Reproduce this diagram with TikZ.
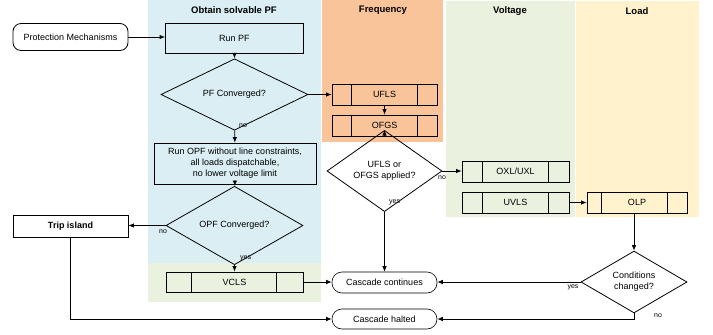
\documentclass[tikz,border=0pt]{standalone}
\usepackage{fontspec}
\setmainfont{Liberation Sans}
\usetikzlibrary{shapes.geometric,arrows.meta}
\definecolor{laneblue}{HTML}{DAEEF3}
\definecolor{lanegreen}{HTML}{EAF1DE}
\definecolor{laneorange}{HTML}{F9C49A}
\definecolor{laneyellow}{HTML}{FFF2CC}
\begin{document}
\begin{tikzpicture}[x=1pt,y=-1pt,
  every node/.style={font=\fontsize{9}{11}\selectfont},
  box/.style={draw, line width=0.8pt, minimum width=#1, minimum height=21pt, inner sep=1pt, align=center},
  term/.style={draw, line width=0.6pt, rounded corners=10pt, minimum width=105pt, minimum height=21pt, inner sep=1pt},
  dia/.style={draw, line width=0.8pt, diamond, inner sep=0pt, align=center},
  mbox/.style 2 args={draw, line width=0.8pt, minimum height=21pt, inner sep=1pt,
     path picture={\draw[line width=0.8pt] ([xshift=#1]path picture bounding box.north west) -- ([xshift=#1]path picture bounding box.south west);
                   \draw[line width=0.8pt] ([xshift=-#2]path picture bounding box.north east) -- ([xshift=-#2]path picture bounding box.south east);}},
  title/.style={font=\fontsize{9.5}{11}\selectfont\bfseries},
  lbl/.style={font=\fontsize{7}{8}\selectfont, inner sep=0pt},
  arr/.style={line width=0.8pt, -{Latex[length=5.5pt,width=4.5pt]}},
  ln/.style={line width=0.8pt}
]
\useasboundingbox (0,0) rectangle (713,335);
\fill[white] (0,0) rectangle (713,335);
% lanes
\fill[laneblue] (148,0) rectangle (321,263);
\fill[lanegreen] (148,263) rectangle (321,302);
\fill[laneorange] (322,0) rectangle (443,142);
\fill[lanegreen] (446,1) rectangle (575,217);
\fill[laneyellow] (576,1) rectangle (699,217);
\node[title] (t1) at (234,10) {Obtain solvable PF};
\node[title] (t2) at (383,10) {Frequency};
\node[title] (t3) at (510,11) {Voltage};
\node[title] (t4) at (637,11) {Load};
% nodes
\node[draw, line width=0.8pt, rounded corners=8pt, minimum width=115pt, minimum height=27pt] (prot) at (70.5,37) {Protection Mechanisms};
\node[box=138pt, minimum height=30pt] (runpf) at (234.5,38) {Run PF};
\node[dia, minimum width=147pt, minimum height=47pt] (pfc) at (234.5,94.5) {PF Converged?};
\node[box=162pt, minimum height=41pt] (opf) at (235,163.5) {Run OPF without line constraints,\\all loads dispatchable,\\no lower voltage limit};
\node[dia, minimum width=137pt, minimum height=47pt] (opfc) at (234.5,225.5) {OPF Converged?};
\node[box=115pt, minimum height=22pt, font=\fontsize{9}{11}\selectfont\bfseries] (trip) at (70.5,226) {Trip island};
\node[mbox={25pt}{27pt}, minimum width=137pt, minimum height=20pt] (vcls) at (234.5,282) {VCLS};
\node[mbox={19pt}{20pt}, minimum width=105pt] (ufls) at (384.5,94.5) {UFLS};
\node[mbox={19pt}{20pt}, minimum width=105pt] (ofgs) at (384.5,125.5) {OFGS};
\node[dia, minimum width=115pt, minimum height=46pt] (uoc) at (384.5,171) {UFLS or\\OFGS applied?};
\node[mbox={20pt}{21pt}, minimum width=107pt] (oxl) at (515.5,171.5) {OXL/UXL};
\node[mbox={20pt}{21pt}, minimum width=107pt] (uvls) at (515.5,202.5) {UVLS};
\node[mbox={14pt}{20pt}, minimum width=100pt] (olp) at (637,202.5) {OLP};
\node[dia, minimum width=106pt, minimum height=56pt] (cond) at (634,282) {Conditions\\changed?};
\node[term] (cont) at (384.5,282.5) {Cascade continues};
\node[term, minimum height=20pt] (halt) at (384.5,319) {Cascade halted};
% connectors
\draw[arr] (prot.east) -- (prot.east -| runpf.west);
\draw[arr] (runpf) -- (pfc);
\draw[arr] (pfc.east) -- (pfc.east -| ufls.west);
\draw[arr] (pfc) -- (opf);
\node[lbl, anchor=west] (l1) at (239,126) {no};
\draw[arr] (opf) -- (opfc);
\draw[arr] (opfc.west) -- (opfc.west -| trip.east);
\node[lbl] (l2) at (163,232) {no};
\draw[arr] (opfc) -- (vcls);
\node[lbl, anchor=west] (l3) at (240,258) {yes};
\draw[arr] (vcls.east) -- (vcls.east -| cont.west);
\draw[arr] (trip.south) |- (halt.west);
\draw[arr] (ufls) -- (ofgs);
\draw[arr] (ofgs) -- (uoc);
\draw[arr] (uoc.east) -- (uoc.east -| oxl.west);
\node[lbl] (l4) at (442,178) {no};
\draw[arr] (uoc) -- (cont);
\node[lbl, anchor=west] (l5) at (389,202) {yes};
\draw[arr] (uvls.east) -- (uvls.east -| olp.west);
\draw[arr] (cond.north |- olp.south) -- (cond.north);
\draw[arr] (cond.west) -- (cond.west -| cont.east);
\node[lbl] (l6) at (573,287) {yes};
\draw[arr] (cond.south) |- (halt.east);
\node[lbl] (l7) at (658,316) {no};
\end{tikzpicture}
\end{document}
